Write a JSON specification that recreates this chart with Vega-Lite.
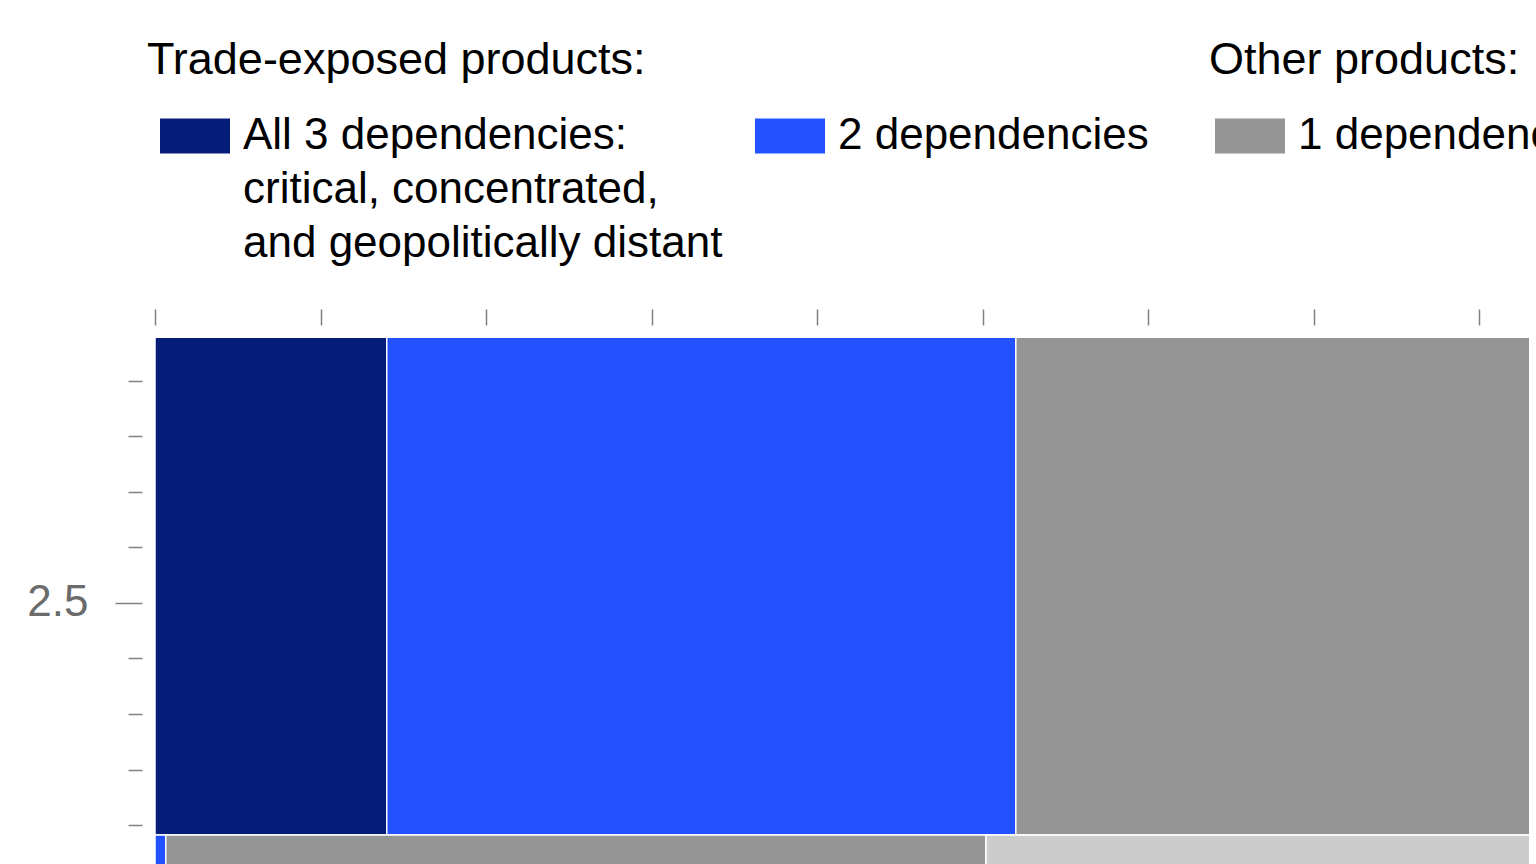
{
  "$schema": "https://vega.github.io/schema/vega-lite/v6.json",
  "width": 1374,
  "height": 539,
  "autosize": {"type": "none"},
  "padding": {"left": 155, "top": 325, "right": 7, "bottom": 0},
  "config": {
    "view": {"stroke": null},
    "font": "Liberation Sans",
    "style": {"guide-label": {"lineHeight": 54}},
    "legend": {
      "orient": "none",
      "direction": "horizontal",
      "columns": 2,
      "padding": 0,
      "titleFontSize": 45,
      "titleFontWeight": "normal",
      "titleColor": "black",
      "titleLimit": 900,
      "titlePadding": 18,
      "labelFontSize": 44,
      "labelColor": "black",
      "labelLimit": 800,
      "symbolType": "M-1,-0.5H1V0.5H-1Z",
      "symbolSize": 4900,
      "symbolStrokeWidth": 0,
      "columnPadding": 19
    }
  },
  "data": {
    "values": [
      {"row": "A", "group": "trade", "category": "All 3 dependencies: critical, concentrated, and geopolitically distant", "x0": 0, "x1": 14.0, "y0": 2.082, "y1": 2.978},
      {"row": "A", "group": "trade", "category": "2 dependencies", "x0": 14.0, "x1": 52.0, "y0": 2.082, "y1": 2.978},
      {"row": "A", "group": "other", "category": "1 dependency", "x0": 52.0, "x1": 100, "y0": 2.082, "y1": 2.978},
      {"row": "B", "group": "trade", "category": "2 dependencies", "x0": 0, "x1": 0.65, "y0": 1.6, "y1": 2.082},
      {"row": "B", "group": "other", "category": "1 dependency", "x0": 0.65, "x1": 50.2, "y0": 1.6, "y1": 2.082},
      {"row": "B", "group": "other", "category": "No dependencies", "x0": 50.2, "x1": 100, "y0": 1.6, "y1": 2.082}
    ]
  },
  "encoding": {
    "x": {
      "field": "x0",
      "type": "quantitative",
      "scale": {"domain": [0, 83], "nice": false, "zero": false},
      "axis": {
        "orient": "top",
        "values": [0, 10, 20, 30, 40, 50, 60, 70, 80],
        "labels": false,
        "domain": false,
        "grid": false,
        "tickSize": 16,
        "tickColor": "#808080",
        "tickWidth": 1.5,
        "title": null
      }
    },
    "x2": {"field": "x1"},
    "y": {
      "field": "y0",
      "type": "quantitative",
      "scale": {"domain": [2.03, 3.0], "nice": false, "zero": false},
      "axis": {
        "values": [2.1, 2.2, 2.3, 2.4, 2.5, 2.6, 2.7, 2.8, 2.9],
        "labelExpr": "datum.value == 2.5 ? '2.5' : ''",
        "tickSize": {"condition": {"test": "datum.value == 2.5", "value": 27}, "value": 14},
        "offset": 13,
        "labelPadding": 27,
        "labelFontSize": 44,
        "labelColor": "#6b6b6b",
        "domain": false,
        "grid": false,
        "tickColor": "#808080",
        "tickWidth": 1.5,
        "title": null
      }
    },
    "y2": {"field": "y1"}
  },
  "layer": [
    {
      "transform": [{"filter": "datum.group == 'trade'"}],
      "mark": {"type": "rect", "stroke": "white", "strokeWidth": 1.5, "clip": true},
      "encoding": {
        "color": {
          "field": "category",
          "type": "nominal",
          "scale": {
            "domain": ["All 3 dependencies: critical, concentrated, and geopolitically distant", "2 dependencies"],
            "range": ["#051c7a", "#2251ff"]
          },
          "legend": {
            "title": "Trade-exposed products:",
            "legendX": -8,
            "legendY": -287,
            "symbolOffset": 13,
            "labelOffset": 13,
            "labelExpr": "indexof(datum.label, 'All 3') == 0 ? ['All 3 dependencies:', 'critical, concentrated,', 'and geopolitically distant'] : [datum.label, '', '']"
          }
        }
      }
    },
    {
      "transform": [{"filter": "datum.group == 'other'"}],
      "mark": {"type": "rect", "stroke": "white", "strokeWidth": 1.5, "clip": true},
      "encoding": {
        "color": {
          "field": "category",
          "type": "nominal",
          "scale": {
            "domain": ["1 dependency", "No dependencies"],
            "range": ["#959595", "#cccccc"]
          },
          "legend": {
            "title": "Other products:",
            "legendX": 1054,
            "legendY": -287,
            "symbolOffset": 6,
            "labelOffset": 13
          }
        }
      }
    }
  ],
  "resolve": {"scale": {"color": "independent"}}
}
